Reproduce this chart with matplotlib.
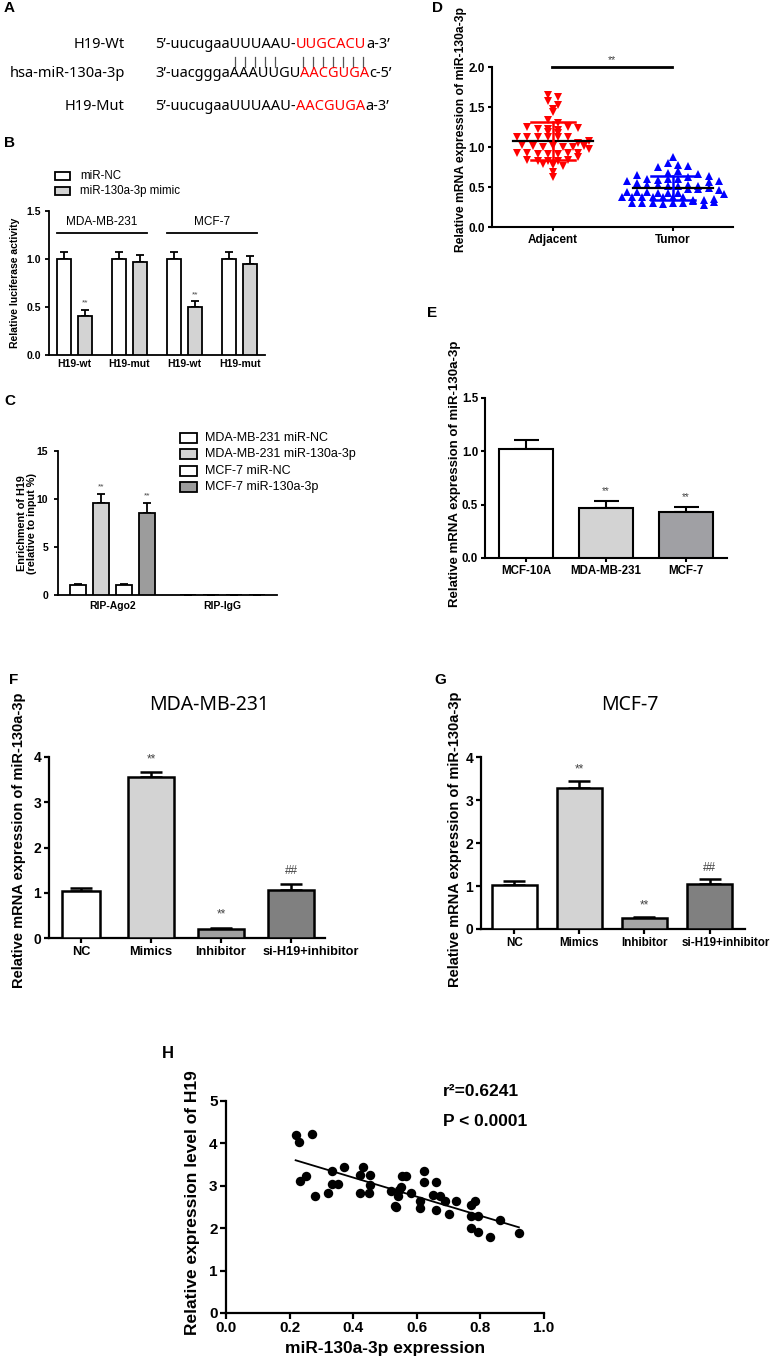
import numpy as np
import matplotlib
matplotlib.use("Agg")
import matplotlib.pyplot as plt
from matplotlib.patches import Rectangle
from matplotlib.ticker import FormatStrFormatter
from matplotlib.transforms import Bbox, ScaledTranslation

# ---------------- data ----------------
# Panel B
b_groups = ["H19-wt", "H19-mut", "H19-wt", "H19-mut"]
b_nc = [1.0, 1.0, 1.0, 1.0]
b_nc_err = [0.07, 0.07, 0.07, 0.07]
b_mimic = [0.41, 0.97, 0.50, 0.95]
b_mimic_err = [0.06, 0.07, 0.06, 0.08]
b_sig = ["**", "", "**", ""]
b_legend = ["miR-NC", "miR-130a-3p mimic"]

# Panel C
c_groups = ["RIP-Ago2", "RIP-IgG"]
c_labels = ["MDA-MB-231 miR-NC", "MDA-MB-231 miR-130a-3p", "MCF-7 miR-NC", "MCF-7 miR-130a-3p"]
c_vals = [[1.0, 0.0], [9.55, 0.0], [1.0, 0.0], [8.55, 0.0]]
c_errs = [[0.1, 0.0], [1.0, 0.0], [0.1, 0.0], [1.0, 0.0]]
c_sig = [["", ""], ["**", ""], ["", ""], ["**", ""]]

# Panel D
d_groups = ["Adjacent", "Tumor"]
d_adjacent = [1.65, 1.63, 1.58, 1.53, 1.48, 1.44, 1.34, 1.30, 1.25, 1.23, 1.22, 1.21,
              1.25, 1.24, 1.19, 1.13, 1.13, 1.12, 1.12, 1.13, 1.13, 1.02, 1.01, 1.00,
              1.01, 1.00, 1.00, 1.01, 0.93, 0.92, 0.91, 0.91, 0.91, 0.92, 0.93, 0.84,
              0.83, 0.83, 0.83, 0.84, 0.79, 0.77, 0.76, 0.69, 0.63, 1.05, 0.97, 1.08,
              0.88, 1.17]
d_tumor = [0.88, 0.75, 0.80, 0.78, 0.76, 0.67, 0.65, 0.57, 0.60, 0.59, 0.60, 0.60,
           0.55, 0.53, 0.52, 0.51, 0.51, 0.52, 0.51, 0.44, 0.44, 0.44, 0.43, 0.43,
           0.43, 0.38, 0.37, 0.38, 0.37, 0.38, 0.38, 0.38, 0.30, 0.30, 0.30, 0.29,
           0.30, 0.30, 0.34, 0.34, 0.35, 0.33, 0.48, 0.47, 0.62, 0.66, 0.70, 0.56,
           0.58, 0.49, 0.46, 0.28, 0.31, 0.41, 0.64]

# Panel E
e_groups = ["MCF-10A", "MDA-MB-231", "MCF-7"]
e_vals = [1.02, 0.47, 0.435]
e_errs = [0.085, 0.06, 0.04]
e_sig = ["", "**", "**"]

# Panels F, G
fg_groups = ["NC", "Mimics", "Inhibitor", "si-H19+inhibitor"]
f_vals = [1.03, 3.56, 0.20, 1.07]
f_errs = [0.08, 0.11, 0.03, 0.12]
f_sig = ["", "**", "**", "##"]
g_vals = [1.03, 3.29, 0.25, 1.05]
g_errs = [0.08, 0.16, 0.02, 0.11]
g_sig = ["", "**", "**", "##"]

# Panel H
h_x = [0.219, 0.230, 0.272, 0.233, 0.251, 0.280, 0.332, 0.321, 0.332, 0.353, 0.372,
       0.421, 0.431, 0.452, 0.421, 0.450, 0.452, 0.520, 0.536, 0.541, 0.549, 0.555,
       0.565, 0.583, 0.609, 0.611, 0.622, 0.622, 0.660, 0.652, 0.660, 0.672, 0.688,
       0.701, 0.722, 0.770, 0.782, 0.770, 0.792, 0.770, 0.792, 0.831, 0.863, 0.921,
       0.545, 0.532]
h_y = [4.20, 4.04, 4.21, 3.12, 3.24, 2.76, 3.35, 2.83, 3.04, 3.04, 3.45, 3.26, 3.44,
       3.26, 2.83, 2.83, 3.02, 2.87, 2.51, 2.76, 2.98, 3.23, 3.23, 2.83, 2.63, 2.47,
       3.34, 3.10, 3.10, 2.79, 2.43, 2.75, 2.63, 2.33, 2.63, 2.55, 2.63, 2.29, 2.29,
       2.00, 1.92, 1.79, 2.20, 1.88, 2.90, 2.52]

# ---------------- figure ----------------
W, H = 775, 1363
plt.rcParams["font.family"] = ["Liberation Sans", "DejaVu Sans"]
plt.rcParams["font.weight"] = "bold"
plt.rcParams["axes.labelweight"] = "bold"
fig = plt.figure(figsize=(W / 100, H / 100), dpi=100)
renderer = fig.canvas.get_renderer()

ov = fig.add_axes([0, 0, 1, 1])
ov.set_xlim(0, W)
ov.set_ylim(H, 0)
ov.axis("off")
ov.set_zorder(10)


def px_axes(l, r, t, b):
    ax = fig.add_axes([l / W, 1 - b / H, (r - l) / W, (b - t) / H])
    ax.patch.set_visible(False)
    return ax


def style(ax, lw=1.5, fs=8, tl=3, xtl=3, pad=2):
    for s in ["top", "right"]:
        ax.spines[s].set_visible(False)
    for s in ["left", "bottom"]:
        ax.spines[s].set_linewidth(lw)
    ax.tick_params(width=lw, labelsize=fs, pad=pad)
    ax.tick_params(axis="y", length=tl)
    ax.tick_params(axis="x", length=xtl)


def barset(ax, x, vals, errs, colors, width, lw, cap, star_off=None, sig=None, star_fs=7):
    ax.bar(x, vals, width, color=colors, edgecolor="black", linewidth=lw, zorder=3)
    ax.errorbar(x, vals, yerr=[np.zeros(len(errs)), errs], fmt="none", ecolor="black",
                elinewidth=lw, capsize=cap, capthick=lw, zorder=2, clip_on=False)
    if sig is not None:
        for xi, v, e, s in zip(x, vals, errs, sig):
            if s:
                ax.text(xi, v + e + star_off, s, ha="center", va="center",
                        fontsize=star_fs, color="#444444", fontweight="normal", clip_on=False)


def panel_letter(x, y, s, fs=11):
    ov.text(x, y, s, fontsize=fs, fontweight="bold", ha="left", va="center")


def text_w(s, size):
    t = ov.text(0, 0, s, fontsize=size, family="Noto Sans", fontweight="normal")
    w = t.get_window_extent(renderer).width
    t.remove()
    return w


# ---------- Panel A ----------
line1 = [("5\u2019-uucugaaUUUAAU-", "black"), ("UUGCACU", "#ff0000"), ("a-3\u2019", "black")]
line2 = [("3\u2019-uacgggaAAAUUGU", "black"), ("AACGUGA", "#ff0000"), ("c-5\u2019", "black")]
line3 = [("5\u2019-uucugaaUUUAAU-", "black"), ("AACGUGA", "#ff0000"), ("a-3\u2019", "black")]
full1 = "".join(s for s, _ in line1)
fsA = 10 * 235 / text_w(full1, 10)


def seq_line(x0, yb, segs, size):
    x = x0
    for s, col in segs:
        ov.text(x, yb, s, color=col, fontsize=size, family="Noto Sans",
                fontweight="normal", ha="left", va="baseline")
        x += text_w(s, size)
    full = "".join(s for s, _ in segs)
    pref = [text_w(full[:k], size) if k else 0.0 for k in range(len(full) + 1)]
    return [x0 + (pref[i] + pref[i + 1]) / 2 for i in range(len(full))]


panel_letter(4, 8, "A")
for lab, yb in [("H19-Wt", 48), ("hsa-miR-130a-3p", 77), ("H19-Mut", 110)]:
    ov.text(125, yb, lab, fontsize=fsA, family="Noto Sans", fontweight="normal",
            ha="right", va="baseline")
c1 = seq_line(155, 48, line1, fsA)
c2 = seq_line(155, 77, line2, fsA)
seq_line(155, 110, line3, fsA)
for i in list(range(10, 15)) + list(range(17, 24)):
    xc = (c1[i] + c2[i]) / 2
    ov.plot([xc, xc], [57, 67], color="#555555", lw=0.9)

# ---------- Panel B ----------
panel_letter(4, 143, "B")
axB = px_axes(49, 265, 211, 355)
xb = np.arange(len(b_groups))
off_b, w_b = 0.19, 0.255
barset(axB, xb - off_b, b_nc, b_nc_err, "white", w_b, 1.3, 2.8)
barset(axB, xb + off_b, b_mimic, b_mimic_err, "#d3d3d3", w_b, 1.3, 2.8, 0.07, b_sig, 6)
axB.set_xlim(-0.46, 3.46)
axB.set_ylim(0, 1.5)
axB.set_yticks([0, 0.5, 1.0, 1.5])
axB.yaxis.set_major_formatter(FormatStrFormatter("%.1f"))
axB.set_xticks(xb)
axB.set_xticklabels(b_groups)
style(axB, lw=1.3, fs=7.5, tl=3, xtl=0, pad=3)
edge = off_b + w_b / 2
for g0, g1, name in [(0, 1, "MDA-MB-231"), (2, 3, "MCF-7")]:
    axB.plot([g0 - edge, g1 + edge], [1.27, 1.27], color="black", lw=1.3, clip_on=False)
    axB.text((g0 + g1) / 2, 1.385, name, ha="center", va="center", fontsize=8.5,
             fontweight="normal", clip_on=False)
ov.text(15, 283, "Relative luciferase activity", rotation=90, ha="center", va="center",
        fontsize=7.5, fontweight="bold")
for i, (lab, col) in enumerate(zip(b_legend, ["white", "#d3d3d3"])):
    yy = 176 + 15 * i
    ov.add_patch(Rectangle((55, yy - 4), 15, 8, facecolor=col, edgecolor="black", lw=1.3))
    ov.text(80, yy, lab, va="center", ha="left", fontsize=8.3, fontweight="normal")

# ---------- Panel C ----------
panel_letter(4, 401, "C")
axC = px_axes(58, 277, 451, 595)
xc_ = np.arange(len(c_groups))
c_offs = [-0.314, -0.105, 0.105, 0.314]
c_cols = ["white", "#d3d3d3", "white", "#9c9c9c"]
for k in range(4):
    barset(axC, xc_ + c_offs[k], c_vals[k], c_errs[k], c_cols[k], 0.145, 1.3, 2.8,
           0.75, c_sig[k], 6)
axC.set_xlim(-0.5, 1.5)
axC.set_ylim(0, 15)
axC.set_yticks([0, 5, 10, 15])
axC.set_xticks(xc_)
axC.set_xticklabels(c_groups)
style(axC, lw=1.3, fs=7.5, tl=3, xtl=0, pad=4)
ov.text(27, 523, "Enrichment of H19\n(relative to input %)", rotation=90, ha="center",
        va="center", fontsize=7.8, fontweight="bold", multialignment="center", linespacing=1.1)
for i, (lab, col) in enumerate(zip(c_labels, c_cols)):
    yy = 438 + 16.3 * i
    ov.add_patch(Rectangle((180, yy - 5), 17, 10, facecolor=col, edgecolor="black", lw=1.3))
    ov.text(205, yy, lab, va="center", ha="left", fontsize=9, fontweight="normal")

# ---------- Panel D ----------
panel_letter(432, 8, "D")
axD = px_axes(492, 733, 67, 227)


def swarm(vals, step, base, spacing):
    v = np.asarray(vals, dtype=float)
    rows = np.round((v - base) / step).astype(int)
    offs = np.zeros(len(v))
    for r in np.unique(rows):
        idx = np.where(rows == r)[0]
        k = len(idx)
        offs[idx] = (np.arange(k) - (k - 1) / 2) * spacing
    return offs


for gi, (vals, mk, col, base) in enumerate([(d_adjacent, "v", "#ff0000", 0.61),
                                            (d_tumor, "^", "#0000ff", 0.30)]):
    offs = swarm(vals, 0.08, base, 0.085)
    axD.plot(gi + offs, vals, linestyle="none", marker=mk, color=col, ms=6.2, mew=0, zorder=2)
    m = np.mean(vals)
    sd = np.std(vals, ddof=1)
    axD.plot([gi - 0.335, gi + 0.335], [m, m], color="black", lw=1.6, zorder=3)
    axD.plot([gi - 0.18, gi + 0.18], [m + sd, m + sd], color=col, lw=1.8, zorder=3)
    axD.plot([gi - 0.18, gi + 0.18], [m - sd, m - sd], color=col, lw=1.8, zorder=3)
    axD.plot([gi, gi], [m - sd, m + sd], color=col, lw=1.8, zorder=3)
axD.plot([-0.005, 0.995], [2.0, 2.0], color="black", lw=2, clip_on=False)
axD.text(0.49, 2.09, "**", ha="center", va="center", fontsize=7.5, color="#444444",
         fontweight="normal", clip_on=False)
axD.set_xlim(-0.508, 1.5)
axD.set_ylim(0, 2.0)
axD.set_yticks([0, 0.5, 1.0, 1.5, 2.0])
axD.yaxis.set_major_formatter(FormatStrFormatter("%.1f"))
axD.set_xticks([0, 1])
axD.set_xticklabels(d_groups)
style(axD, lw=1.5, fs=8.5, tl=3, xtl=3, pad=2)
ov.text(461, 130, "Relative mRNA expression of miR-130a-3p", rotation=90, ha="center",
        va="center", fontsize=8.7, fontweight="bold")

# ---------- Panel E ----------
panel_letter(427, 313, "E")
axE = px_axes(485, 727, 398, 558)
xe = np.arange(len(e_groups))
barset(axE, xe, e_vals, e_errs, ["white", "#d3d3d3", "#a0a0a4"], 0.675, 1.5, 9, 0.1, e_sig, 7)
axE.set_xlim(-0.51, 2.51)
axE.set_ylim(0, 1.5)
axE.set_yticks([0, 0.5, 1.0, 1.5])
axE.yaxis.set_major_formatter(FormatStrFormatter("%.1f"))
axE.set_xticks(xe)
axE.set_xticklabels(e_groups)
style(axE, lw=1.5, fs=8.3, tl=3, xtl=3, pad=2)
ov.text(455, 474, "Relative mRNA expression of miR-130a-3p", rotation=90, ha="center",
        va="center", fontsize=9.5, fontweight="bold")


def shift_last_label(ax, dx_px):
    ax.figure.canvas.draw()
    lab = ax.get_xticklabels()[-1]
    lab.set_transform(lab.get_transform() + ScaledTranslation(dx_px / 100, 0, fig.dpi_scale_trans))


# ---------- Panel F ----------
panel_letter(9, 680, "F")
axF = px_axes(49, 325, 757, 938)
xf = np.arange(len(fg_groups))
barset(axF, xf, f_vals, f_errs, ["white", "#d3d3d3", "#a0a0a0", "#808080"],
       [0.53, 0.66, 0.66, 0.66], 1.8, 8, 0.28, f_sig, 8.5)
axF.set_xlim(-0.457, 3.486)
axF.set_ylim(0, 4)
axF.set_yticks([0, 1, 2, 3, 4])
axF.set_xticks(xf)
axF.set_xticklabels(fg_groups)
style(axF, lw=1.6, fs=10, tl=3.5, xtl=3.5, pad=2)
axF.tick_params(axis="x", labelsize=9.2)
ov.text(209, 705, "MDA-MB-231", ha="center", va="center", fontsize=14, family="Noto Sans",
        fontweight="normal")
tF = ov.text(19, 840, "Relative mRNA expression of miR-130a-3p", rotation=90, ha="center",
             va="center", fontsize=10.5, fontweight="bold")
tF.set_clip_box(Bbox.from_extents(0, 0, W, H - 690))
tF.set_clip_on(True)

# ---------- Panel G ----------
panel_letter(434, 680, "G")
axG = px_axes(481, 745, 757, 929)
xg = np.arange(len(fg_groups))
barset(axG, xg, g_vals, g_errs, ["white", "#d3d3d3", "#a6a6a6", "#808080"],
       0.69, 1.8, 8, 0.27, g_sig, 8.5)
axG.set_xlim(-0.515, 3.546)
axG.set_ylim(0, 4)
axG.set_yticks([0, 1, 2, 3, 4])
axG.set_xticks(xg)
axG.set_xticklabels(fg_groups)
style(axG, lw=1.6, fs=10, tl=3.5, xtl=3.5, pad=2)
axG.tick_params(axis="x", labelsize=8.4)
ov.text(630, 705, "MCF-7", ha="center", va="center", fontsize=14, family="Noto Sans",
        fontweight="normal")
ov.text(455, 839, "Relative mRNA expression of miR-130a-3p", rotation=90, ha="center",
        va="center", fontsize=10.5, fontweight="bold")

shift_last_label(axF, 20)
shift_last_label(axG, 16)

# ---------- Panel H ----------
panel_letter(162, 1053, "H", fs=12)
axH = px_axes(226, 544, 1101, 1313)
axH.plot(h_x, h_y, linestyle="none", marker="o", color="black", ms=6.8, mew=0, zorder=3)
slope, icpt = np.polyfit(h_x, h_y, 1)
xx = np.array([min(h_x), max(h_x)])
axH.plot(xx, slope * xx + icpt, color="black", lw=1.3, zorder=2)
axH.set_xlim(0, 1.0)
axH.set_ylim(0, 5)
axH.set_xticks([0, 0.2, 0.4, 0.6, 0.8, 1.0])
axH.xaxis.set_major_formatter(FormatStrFormatter("%.1f"))
axH.set_yticks([0, 1, 2, 3, 4, 5])
style(axH, lw=1.6, fs=11, tl=4, xtl=4, pad=2)
axH.set_xlabel("miR-130a-3p expression", fontsize=12.5, labelpad=4)
ov.text(193, 1203, "Relative expression level of H19", rotation=90, ha="center",
        va="center", fontsize=12.5, fontweight="bold")
ov.text(443, 1092, "r\u00b2=0.6241", ha="left", va="center", fontsize=12.5, fontweight="bold")
ov.text(443, 1122, "P < 0.0001", ha="left", va="center", fontsize=12.5, fontweight="bold")

fig.savefig("out.png", dpi=100)
